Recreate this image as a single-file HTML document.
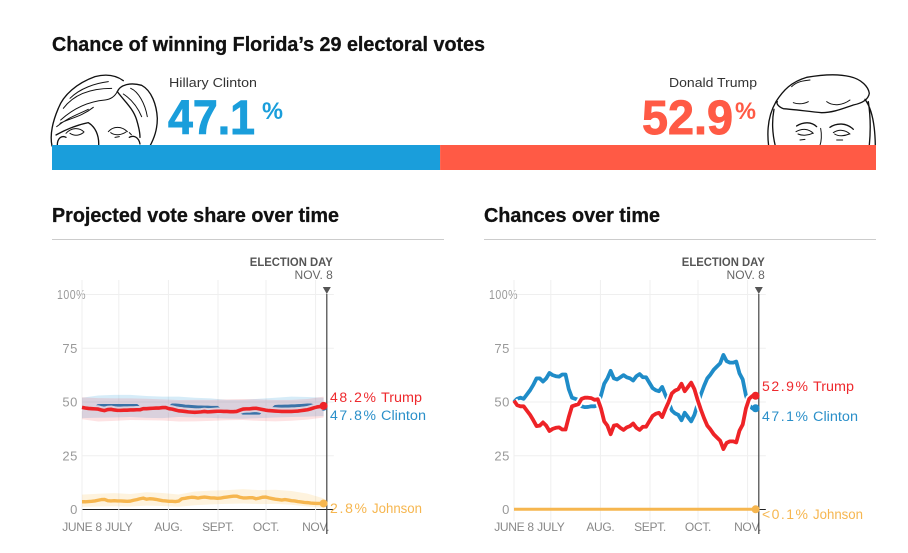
<!DOCTYPE html>
<html lang="en">
<head>
<meta charset="utf-8">
<title>Chance of winning Florida's 29 electoral votes</title>
<style>
html,body{margin:0;padding:0;background:#fff;width:908px;height:553px;overflow:hidden}
svg{display:block}
text{font-family:"Liberation Sans",sans-serif}
.head{font-weight:700;font-size:20px;fill:#111;stroke:#111;stroke-width:.3}
.name{font-size:13px;fill:#333}
.big{font-weight:700;font-size:48px;stroke-width:.9}
.pct{font-weight:700;font-size:24px}
.eday{font-weight:700;font-size:12px;fill:#555}
.nov{font-size:12px;fill:#666}
.val{font-size:14px}
.lab{font-size:13.5px}
.ink{fill:none;stroke:#111;stroke-width:4;stroke-linecap:round;stroke-linejoin:round}
.thin{stroke-width:3}
</style>
</head>
<body>
<svg id="root" width="908" height="553" viewBox="0 0 908 553" xmlns="http://www.w3.org/2000/svg">
  <rect width="908" height="553" fill="#fff"/>
  <text class="head" x="52" y="51" textLength="433" lengthAdjust="spacingAndGlyphs">Chance of winning Florida’s 29 electoral votes</text>

  <g transform="translate(40 20) scale(.3333)">
    <path class="ink" d="M36 378C28 340 40 300 55 265C70 225 110 190 165 170C195 162 225 164 250 182"/>
    <path class="ink" d="M232 215C240 195 270 186 305 196C335 212 350 255 352 295C352 330 342 355 330 378"/>
    <path class="ink" d="M232 215C250 240 280 265 290 300C296 320 300 340 300 352"/>
    <path class="ink thin" d="M250 222C270 235 290 255 305 290M272 205C295 215 315 250 322 290"/>
    <path class="ink thin" d="M70 265C100 225 150 205 215 205M62 300C95 270 140 245 195 240C215 238 225 228 232 215M50 320C80 295 110 285 145 268M90 235C120 205 165 190 205 185M60 310C90 295 125 290 160 262"/>
    <path class="ink" d="M48 345C75 330 110 315 145 308C165 320 178 345 176 378"/>
    <path class="ink thin" d="M78 340C95 322 118 322 132 336M205 335C220 318 245 318 262 335M90 340C105 350 120 345 130 338M212 338C225 348 245 345 258 336"/>
    <path class="ink" d="M268 352C280 345 296 350 300 372M52 375C52 355 65 345 78 352"/>
    <path class="ink thin" d="M225 352L238 350M268 338L274 344"/>
  </g>
  <g transform="translate(620 60) scale(.3333)">
    <path class="ink" d="M446 258C440 210 445 165 468 125C490 90 515 65 560 52C600 45 650 40 690 50C725 58 745 80 748 100C745 120 725 130 700 135C670 145 640 158 605 158C570 155 520 148 490 146C475 140 468 130 472 125"/>
    <path class="ink" d="M462 148C455 185 458 225 466 258M735 118C755 145 765 190 766 256M745 125C752 170 752 215 748 256"/>
    <path class="ink thin" d="M520 128C540 135 555 130 565 125M620 125C640 140 670 135 690 120M515 80C530 65 550 62 570 60"/>
    <path class="ink" d="M530 198C550 185 575 185 590 200M630 202C650 188 680 188 700 208"/>
    <path class="ink thin" d="M528 215C545 205 565 205 580 220M640 218C655 208 675 208 690 222M602 205C606 225 604 245 600 256M534 222C548 228 566 226 578 220M644 222C656 230 674 228 688 222M540 240L555 238M650 240L668 240"/>
  </g>

  <text class="name" x="169" y="87" textLength="88" lengthAdjust="spacingAndGlyphs">Hillary Clinton</text>
  <text class="big" x="168" y="134" fill="#1a9edb" stroke="#1a9edb" textLength="87" lengthAdjust="spacingAndGlyphs">47.1</text>
  <text class="pct" x="262" y="119" fill="#1a9edb" textLength="21" lengthAdjust="spacingAndGlyphs">%</text>
  <text class="name" x="669" y="87" textLength="88" lengthAdjust="spacingAndGlyphs">Donald Trump</text>
  <text class="big" x="642" y="134" fill="#ff5a45" stroke="#ff5a45" textLength="91" lengthAdjust="spacingAndGlyphs">52.9</text>
  <text class="pct" x="735" y="119" fill="#ff5a45" textLength="21" lengthAdjust="spacingAndGlyphs">%</text>
  <rect id="barClinton" y="145" height="25" fill="#1a9edb"/>
  <rect id="barTrump" y="145" height="25" fill="#ff5a45"/>

  <text class="head" x="52" y="222" textLength="287" lengthAdjust="spacingAndGlyphs">Projected vote share over time</text>
  <text class="head" x="484" y="222" textLength="176" lengthAdjust="spacingAndGlyphs">Chances over time</text>
  <rect x="52" y="239" width="392" height="1" fill="#ccc"/>
  <rect x="484" y="239" width="392" height="1" fill="#ccc"/>

  <g id="chartLeft"></g>
  <g id="chartRight"></g>

  <g>
    <text class="val" x="330" y="402" fill="#ee2a2e" textLength="46">48.2%</text>
    <text class="lab" x="381" y="402" fill="#ee2a2e" textLength="41" lengthAdjust="spacingAndGlyphs">Trump</text>
    <text class="val" x="330" y="420" fill="#2a8fc9" textLength="46">47.8%</text>
    <text class="lab" x="381" y="420" fill="#2a8fc9" textLength="45" lengthAdjust="spacingAndGlyphs">Clinton</text>
    <text class="val" x="330" y="513" fill="#f6b64f" textLength="37">2.8%</text>
    <text class="lab" x="372" y="513" fill="#f6b64f" textLength="50" lengthAdjust="spacingAndGlyphs">Johnson</text>
  </g>
  <g>
    <text class="val" x="762" y="391" fill="#ee2a2e" textLength="46">52.9%</text>
    <text class="lab" x="813" y="391" fill="#ee2a2e" textLength="41" lengthAdjust="spacingAndGlyphs">Trump</text>
    <text class="val" x="762" y="421" fill="#2a8fc9" textLength="46">47.1%</text>
    <text class="lab" x="813" y="421" fill="#2a8fc9" textLength="45" lengthAdjust="spacingAndGlyphs">Clinton</text>
    <text class="val" x="762" y="519" fill="#f6b64f" textLength="46">&lt;0.1%</text>
    <text class="lab" x="813" y="519" fill="#f6b64f" textLength="50" lengthAdjust="spacingAndGlyphs">Johnson</text>
  </g>
</svg>
<script>
const headlineClinton = 47.1;
const headlineTrump = 52.9;

const monthDays = [0, 23, 54, 85, 115, 146];
const monthLabels = ["JUNE 8", "JULY", "AUG.", "SEPT.", "OCT.", "NOV."];
const yTicks = [0, 25, 50, 75, 100];
const yTickLabels = ["0", "25", "50", "75", "100%"];
const electionDay = 153;
const lastForecastDay = 151;

const shareTrump = [47.5,47.2,47,46.9,46.8,46.7,46.3,46,46.5,46.6,46.3,46.1,46.1,46.2,46.2,46.3,46.3,46.4,46.4,46.9,46.9,47,47.1,47.2,47.2,47.4,47.4,46.9,46.7,46.3,45.9,45.8,45.6,45.4,45.3,45.2,45.3,45.4,45.6,45.4,45.5,45.6,45.7,45.7,45.6,45.6,45.5,45.5,45.6,46.2,46.7,46.8,46.8,47,47.1,46.8,46.5,46.2,46,45.9,45.8,45.7,45.6,45.6,45.6,45.6,45.7,45.8,46,46.2,46.4,46.8,47.3,47.7,47.9,48.2];
const shareClinton = [47.5,47.3,47.2,47.2,47.3,48.3,48.4,48.4,48.4,48.4,48.4,48.4,48.4,48.4,48.4,48.4,48.4,48.4,47,46.8,46.8,46.8,46.9,47,47,47,47,47.2,48.6,48.6,48.5,48.3,48.1,48,47.9,47.8,47.7,47.7,47.6,47.6,47.5,47.5,47.5,46.3,46,46,46,46,46,45.5,44.8,44.8,44.8,44.8,44.8,44.8,46.5,46.5,46.5,46.5,47.9,48,48,48.1,48.1,48.2,48.2,48.3,48.4,48.5,48.6,48.6,48.2,48,47.9,47.8];
const shareJohnson = [3.6,3.6,3.7,3.8,4,4.3,4.6,4.7,4.1,4,4.1,4,4,3.9,3.8,3.9,4.3,4.6,5,5.3,4.8,5,4.9,4.7,4.4,4.1,4,3.8,3.8,3.7,3.9,5,5.2,5.5,5.7,5.6,5.3,5.6,5.8,5.6,5.4,5.4,5.2,5.3,5.6,5.8,6,6.2,6.2,5.7,5.4,5.4,5.5,5.5,5,5.3,5.7,5.8,5.4,5.1,4.8,4.6,4.4,4.6,4.4,4.1,4,3.7,3.5,3.3,3.2,3,2.9,2.8,2.8,2.8];

const bandClintonHigh = [52,53,53.3,53.3,52.8,52.5,52.5,52,51.7,51,51,51.5,52,52.5,52.3,52];
const bandClintonLow = [42.5,42.7,42.8,43,42.6,42.5,43,42.8,42.6,42.3,42.2,42.5,42.8,43,43.2,43.5];
const bandTrumpHigh = [52.2,51.8,51.7,51.7,51.5,51.2,50.9,51,51,51.2,51.4,51.2,50.9,51,51.4,52.5];
const bandTrumpLow = [42,40.9,41.2,41.6,41.5,41.4,40.9,41,41.2,41.5,41.6,41.2,41,41.3,41.8,42.8];
const bandJohnsonHigh = [6.9,7.3,7.6,7.2,8,7.7,7,8.4,8.8,9,9.5,9,9.2,8.6,7.4,5.2];
const bandJohnsonLow = [1.2,1.4,1.5,1.4,1.8,1.6,1.3,2,2.4,2.6,2.8,2.5,2.6,2.2,1.4,0.8];

const chanceClinton = [50,51.5,52,51.5,53.5,55.5,58,61,61,59.5,61,63.5,62.5,62,61.8,62.8,62.8,56,52,51.5,51,48,47.6,47.7,48,48,48.5,53,58.5,61,64.5,61,60.5,61.5,62.5,61.5,61,60,62,63,61.5,61.5,59,56.5,55.5,55,57,53.3,50,46,44.7,44,41.5,45,43,41,44,49,53.5,57.5,61,62.8,65,66.5,68,71.9,69,68.3,68.3,68.8,63.3,60.5,53,48.5,47,47.1];
const chanceTrump = [50.6,48.5,48,48,46,44,41.5,38.8,39,40.5,39,36.5,37.5,38,38.2,37.2,37.2,43,48,48.5,49,51.5,52,52,51.8,51,51.3,47,41,39,35,39,39.3,38,37,38.2,38.8,40,38,37,38.5,38.5,41,43.5,44.5,45,43,46.7,50,54,55.3,56,58.5,55,57,59,56,51,46.5,42.5,39,37.2,35,33.5,32,28.1,31,31.7,31.7,31.2,36.7,39.5,47,51.5,52.8,52.9];
const chanceJohnson = [0.1,0.1,0.1,0.1,0.1,0.1,0.1,0.1,0.1,0.1,0.1,0.1,0.1,0.1,0.1,0.1,0.1,0.1,0.1,0.1,0.1,0.1,0.1,0.1,0.1,0.1,0.1,0.1,0.1,0.1,0.1,0.1,0.1,0.1,0.1,0.1,0.1,0.1,0.1,0.1,0.1,0.1,0.1,0.1,0.1,0.1,0.1,0.1,0.1,0.1,0.1,0.1,0.1,0.1,0.1,0.1,0.1,0.1,0.1,0.1,0.1,0.1,0.1,0.1,0.1,0.1,0.1,0.1,0.1,0.1,0.1,0.1,0.1,0.1,0.1,0.1];

const NS = "http://www.w3.org/2000/svg";
const RED = "#ee2327", BLUE = "#1f8cc8", DEEP = "#1a78b4", GOLD = "#f6b64f";

function yScale(v) { return 509.5 - 2.15 * v; }

function add(parent, tag, attrs, txt) {
  const el = document.createElementNS(NS, tag);
  for (const k in attrs) el.setAttribute(k, attrs[k]);
  if (txt !== undefined) el.textContent = txt;
  parent.appendChild(el);
  return el;
}

function linePath(values, xScale) {
  return values.map(function (v, i) {
    const day = i * lastForecastDay / (values.length - 1);
    return (i ? "L" : "M") + xScale(day).toFixed(2) + " " + yScale(v).toFixed(2);
  }).join("");
}

function bandPath(high, low, xScale) {
  const n = high.length;
  let d = "";
  high.forEach(function (v, i) {
    d += (i ? "L" : "M") + xScale(i * lastForecastDay / (n - 1)).toFixed(2) + " " + yScale(v).toFixed(2);
  });
  for (let i = n - 1; i >= 0; i--) {
    d += "L" + xScale(i * lastForecastDay / (n - 1)).toFixed(2) + " " + yScale(low[i]).toFixed(2);
  }
  return d + "Z";
}

function drawFrame(g, x0) {
  const xScale = function (day) { return x0 + 1.6 * day; };
  const ex = xScale(electionDay);
  yTicks.forEach(function (t, i) {
    const gl = add(g, "line", {x1: x0, x2: ex + 7, y1: yScale(t), y2: yScale(t), stroke: t === 0 ? "#222" : "#efefef", "stroke-width": 1});
    
    
    const lab = add(g, "text", {x: x0 - 4, y: yScale(t) + 4.7, "text-anchor": "end", "font-size": "13", "letter-spacing": "0.6", fill: "#999"}, yTickLabels[i]);
    
    
    if (t === 100) { lab.setAttribute("text-anchor", "start"); lab.setAttribute("x", x0 - 25); lab.setAttribute("textLength", "29"); lab.setAttribute("lengthAdjust", "spacingAndGlyphs"); }
  });
  monthDays.forEach(function (d, i) {
    const gl = add(g, "line", {x1: xScale(d), x2: xScale(d), y1: 280, y2: 521, stroke: "#efefef", "stroke-width": 1});
    
    
    const lab = add(g, "text", {x: xScale(d), y: 531, "text-anchor": "middle", "font-size": "12", "letter-spacing": "-0.3", fill: "#888"}, monthLabels[i]);
    
    
  });
  const t1 = add(g, "text", {"class": "eday", x: ex + 6, y: 266, "text-anchor": "end", textLength: 83, lengthAdjust: "spacingAndGlyphs"}, "ELECTION DAY");
  
  
  const t2 = add(g, "text", {"class": "nov", x: ex + 6, y: 279, "text-anchor": "end"}, "NOV. 8");
  
  
  const tri = add(g, "path", {d: "M" + (ex - 4) + " 287h8l-4 7z", fill: "#555"});
  
  
  return xScale;
}

function series(g, values, xScale, color, width, name) {
  const p = add(g, "path", {d: linePath(values, xScale), fill: "none", stroke: color, "stroke-width": width, "stroke-linejoin": "round"});
  
  
  return p;
}

function casing(g, values, xScale) {
  const p = add(g, "path", {d: linePath(values, xScale), fill: "none", stroke: "#fff", "stroke-width": 7.5, "stroke-linejoin": "round"});
  
  
}

function band(g, high, low, xScale, color, opacity, name) {
  const p = add(g, "path", {d: bandPath(high, low, xScale), fill: color, "fill-opacity": opacity});
  
  
}

function dot(g, values, xScale, color, name) {
  const c = add(g, "circle", {cx: xScale(lastForecastDay), cy: yScale(values[values.length - 1]), r: 4, fill: color});
  
  
}

function axisLine(g, xScale) {
  const ex = xScale(electionDay);
  const l = add(g, "line", {x1: ex, x2: ex, y1: 294, y2: 534, stroke: "#444", "stroke-width": 1.2});
  
  
}

(function () {
  const barX = function (pct) { return 52 + 8.24 * pct; };
  const bc = document.getElementById("barClinton");
  const bt = document.getElementById("barTrump");
  bc.setAttribute("x", 52);
  bc.setAttribute("width", barX(headlineClinton) - 52);
  bt.setAttribute("x", barX(headlineClinton));
  bt.setAttribute("width", barX(headlineClinton + headlineTrump) - barX(headlineClinton));

  const L = document.getElementById("chartLeft");
  const xl = drawFrame(L, 82);
  axisLine(L, xl);
  series(L, shareClinton, xl, DEEP, 3, "clinton-share-line");
  dot(L, shareClinton, xl, DEEP, "clinton-share-dot");
  casing(L, shareTrump, xl);
  band(L, bandClintonHigh, bandClintonLow, xl, "#1e96d7", 0.18, "clinton-share-band");
  band(L, bandTrumpHigh, bandTrumpLow, xl, "#f03c46", 0.15, "trump-share-band");
  band(L, bandJohnsonHigh, bandJohnsonLow, xl, "#f9c25a", 0.2, "johnson-share-band");
  series(L, shareJohnson, xl, GOLD, 3.4, "johnson-share-line");
  dot(L, shareJohnson, xl, GOLD, "johnson-share-dot");
  series(L, shareTrump, xl, RED, 3.6, "trump-share-line");
  dot(L, shareTrump, xl, RED, "trump-share-dot");

  const R = document.getElementById("chartRight");
  const xr = drawFrame(R, 514);
  axisLine(R, xr);
  series(R, chanceClinton, xr, BLUE, 3.8, "clinton-chance-line");
  dot(R, chanceClinton, xr, BLUE, "clinton-chance-dot");
  casing(R, chanceTrump, xr);
  series(R, chanceTrump, xr, RED, 3.8, "trump-chance-line");
  dot(R, chanceTrump, xr, RED, "trump-chance-dot");
  series(R, chanceJohnson, xr, GOLD, 3, "johnson-chance-line");
  dot(R, chanceJohnson, xr, GOLD, "johnson-chance-dot");
})();
</script>
</body>
</html>
